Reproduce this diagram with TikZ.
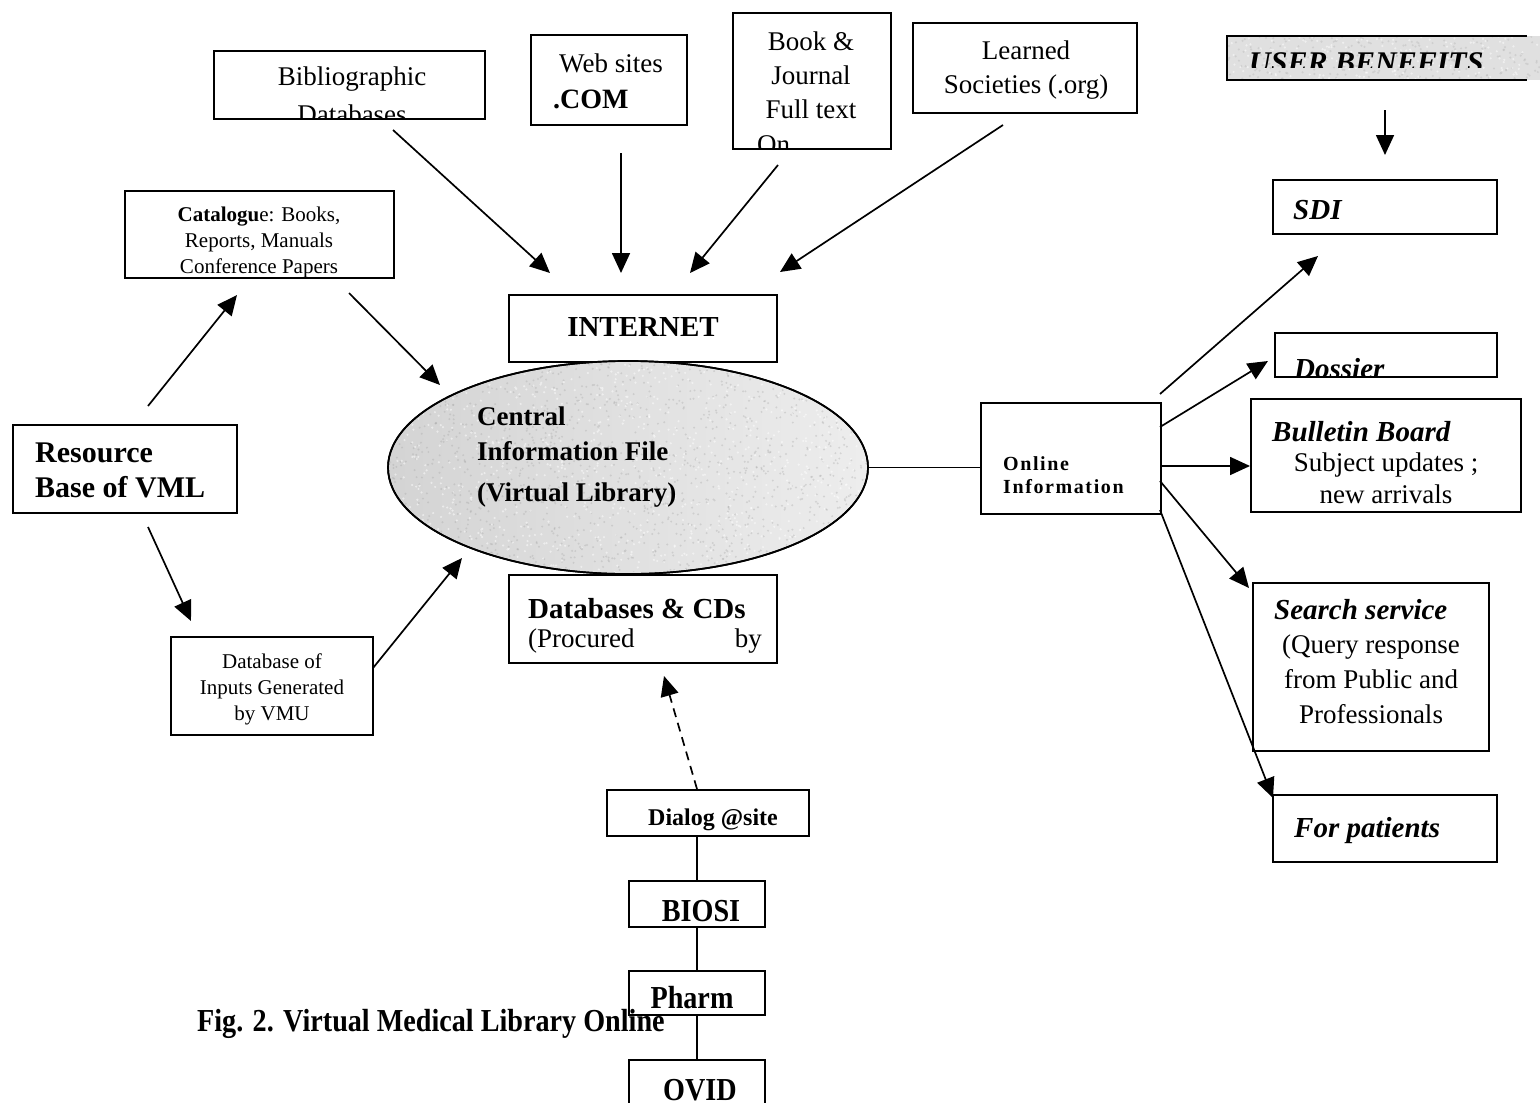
\documentclass[tikz,border=0pt]{standalone}
\usepackage{graphicx}
\usepackage{fontspec}
\setmainfont{Liberation Serif}
\newfontfamily\spacedserif[LetterSpace=8]{Liberation Serif}
\usetikzlibrary{arrows.meta,shapes.geometric}
\newcommand\fsz[1]{\fontsize{#1pt}{#1pt}\selectfont}
\newcommand\cnd[1]{\scalebox{0.88}[1]{#1}}
\begin{document}
\begin{tikzpicture}[x=1pt,y=-1pt,
  box/.style={draw,line width=2.1pt,fill=white,inner sep=0pt,anchor=north west},
  arr/.style={line width=1.7pt,-{Triangle[length=20pt,width=18pt]}},
  dasharr/.style={arr,dash pattern=on 9pt off 6pt},
  ln/.style={line width=1.7pt},
  t/.style={inner sep=0pt,anchor=base},
  tl/.style={inner sep=0pt,anchor=base west},
  tr/.style={inner sep=0pt,anchor=base east},
  bi/.style={font=\fsz{29}\bfseries\itshape}
]
\useasboundingbox[fill=white] (0,0) rectangle (1540,1103);
\pgfmathsetseed{7}

% ---------- boxes ----------
\node[box,minimum width=271pt,minimum height=68pt]  (biblio)   at (213,50) {};
\node[box,minimum width=156pt,minimum height=90pt]  (web)      at (530,34) {};
\node[box,minimum width=158pt,minimum height=136pt] (book)     at (732,12) {};
\node[box,minimum width=224pt,minimum height=90pt]  (learned)  at (912,22) {};
\node[box,minimum width=224pt,minimum height=54pt]  (sdi)      at (1272,179) {};
\node[box,minimum width=269pt,minimum height=87pt]  (catalog)  at (124,190) {};
\node[box,minimum width=268pt,minimum height=67pt]  (internet) at (508,294) {};
\node[box,minimum width=268pt,minimum height=88pt]  (dbcd)     at (508,574) {};
\node[box,minimum width=224pt,minimum height=88pt]  (resource) at (12,424) {};
\node[box,minimum width=202pt,minimum height=98pt]  (dbinput)  at (170,636) {};
\node[box,minimum width=180pt,minimum height=111pt] (online)   at (980,402) {};
\node[box,minimum width=222pt,minimum height=44pt]  (dossier)  at (1274,332) {};
\node[box,minimum width=270pt,minimum height=113pt] (bulletin) at (1250,398) {};
\node[box,minimum width=236pt,minimum height=168pt] (search)   at (1252,582) {};
\node[box,minimum width=224pt,minimum height=67pt]  (patients) at (1272,794) {};
\node[box,minimum width=202pt,minimum height=46pt]  (dialog)   at (606,789) {};
\node[box,minimum width=136pt,minimum height=46pt]  (biosi)    at (628,880) {};
\node[box,minimum width=136pt,minimum height=44pt]  (pharm)    at (628,970) {};
\node[box,minimum width=136pt,minimum height=60pt]  (ovid)     at (628,1059) {};

% user benefits (shaded, open on the right)
\node[anchor=north west,inner sep=0pt,fill=black!12,minimum width=313pt,minimum height=44pt] (ub) at (1227,36) {};
\begin{scope}
  \clip (1227,36) rectangle (1540,80);
  \foreach \i in {1,...,250} {
    \fill[black!30,opacity=0.35] ({1227+313*rnd},{36+44*rnd}) circle[radius=1.2pt];
  }
  \foreach \i in {1,...,200} {
    \fill[white,opacity=0.5] ({1227+313*rnd},{36+44*rnd}) circle[radius=1.2pt];
  }
\end{scope}
\draw[line width=2.1pt] ([xshift=300pt]ub.north west) -- (ub.north west) -- (ub.south west) -- ([xshift=300pt]ub.south west);
\begin{scope}
  \clip (1227,36) rectangle (1540,67);
  \node[tl] (ubt) at (1249,72) {\fsz{30}\bfseries\itshape USER BENEFITS};
\end{scope}

% central ellipse
\node[ellipse,draw,line width=1.7pt,left color=black!17,right color=black!7,
      minimum width=480pt,minimum height=213pt,inner sep=0pt] (cif) at (628,467.5) {};
\begin{scope}
  \clip (628,467.5) ellipse [x radius=238pt, y radius=104.5pt];
  \foreach \i in {1,...,1400} {
    \fill[black!35,opacity=0.35] ({388+480*rnd},{361+213*rnd}) circle[radius=1.1pt];
  }
  \foreach \i in {1,...,900} {
    \fill[white,opacity=0.5] ({388+480*rnd},{361+213*rnd}) circle[radius=1.2pt];
  }
\end{scope}
\draw[line width=1.7pt] (628,467.5) ellipse [x radius=240pt, y radius=106.5pt];

% ---------- texts ----------
\node[t] (tb1) at (352,85) {\fsz{27}Bibliographic};
\begin{scope}
  \clip (biblio.north west) rectangle ([yshift=1pt]biblio.south east);
  \node[t] (tb2) at (352,123) {\fsz{27}Databases};
\end{scope}

\node[t]  (tw1) at (611,72)  {\fsz{27}Web sites};
\node[tl] (tw2) at (553,108) {\fsz{28}\bfseries .COM};

\node[t] (tk1) at (811,50)  {\fsz{27}Book \&};
\node[t] (tk2) at (811,84)  {\fsz{27}Journal};
\node[t] (tk3) at (811,118) {\fsz{27}Full text};
\begin{scope}
  \clip (book.north west) rectangle ([yshift=1pt]book.south east);
  \node[tl] (tk4) at (757,153) {\fsz{27}On};
\end{scope}

\node[t] (tl1) at (1026,59) {\fsz{27}Learned};
\node[t] (tl2) at (1026,93) {\fsz{27}Societies (.org)};

\node[tl,bi] (tsdi) at (1293,219) {SDI};

\node[t] (tc1) at (259,221) {\fsz{21}\textbf{Catalogu}e: Books,};
\node[t] (tc2) at (259,247) {\fsz{21}Reports, Manuals};
\begin{scope}
  \clip (catalog.north west) rectangle ([yshift=1pt]catalog.south east);
  \node[t] (tc3) at (259,273) {\fsz{21}Conference Papers};
\end{scope}

\node[t] (tin) at (643,336) {\fsz{29}\bfseries INTERNET};

\node[tl] (tce1) at (477,425) {\fsz{27}\bfseries Central};
\node[tl] (tce2) at (477,460) {\fsz{27}\bfseries Information File};
\node[tl] (tce3) at (477,501) {\fsz{27}\bfseries (Virtual Library)};

\node[tl] (td1) at (528,618) {\fsz{29}\bfseries Databases \& CDs};
\node[tl] (td2) at (528,647) {\fsz{27}(Procured};
\node[tr] (td3) at (762,647) {\fsz{27}by};

\node[tl] (tr1) at (35,462) {\fsz{30}\bfseries Resource};
\node[tl] (tr2) at (35,497) {\fsz{30}\bfseries Base of VML};

\node[t] (ti1) at (272,668) {\fsz{21}Database of};
\node[t] (ti2) at (272,694) {\fsz{21}Inputs Generated};
\node[t] (ti3) at (272,720) {\fsz{21}by VMU};

\node[tl] (to1) at (1003,470) {\fsz{20}\spacedserif\bfseries Online};
\node[tl] (to2) at (1003,493) {\fsz{20}\spacedserif\bfseries Information};

\begin{scope}
  \clip (dossier.north west) rectangle ([yshift=1pt]dossier.south east);
  \node[tl,bi] (tdo) at (1294,378) {Dossier};
\end{scope}

\node[tl,bi] (tbu1) at (1272,441) {Bulletin Board};
\node[t] (tbu2) at (1386,471) {\fsz{27}Subject updates ;};
\node[t] (tbu3) at (1386,503) {\fsz{27}new arrivals};

\node[tl,bi] (ts1) at (1274,619) {Search service};
\node[t] (ts2) at (1371,653) {\fsz{27}(Query response};
\node[t] (ts3) at (1371,688) {\fsz{27}from Public and};
\node[t] (ts4) at (1371,723) {\fsz{27}Professionals};

\node[tl,bi] (tp) at (1294,837) {For patients};

\node[tl] (tdl) at (648,825) {\fsz{24}\bfseries Dialog @site};
\node[t] (tbi) at (701,921) {\cnd{\fsz{32}\bfseries BIOSI}};
\node[t] (tph) at (692,1008) {\cnd{\fsz{32}\bfseries Pharm}};
\node[t] (tov) at (700,1100) {\cnd{\fsz{32}\bfseries OVID}};

\node[tl] (cap) at (197,1031) {\cnd{\fsz{32}\bfseries Fig. 2. Virtual Medical Library Online}};

% ---------- connector end points ----------
\coordinate (a1s) at (393,130);  \coordinate (a1e) at (550,273);
\coordinate (a2s) at (621,153);  \coordinate (a2e) at (621,273);
\coordinate (a3s) at (778,165);  \coordinate (a3e) at (690,273);
\coordinate (a4s) at (1003,125); \coordinate (a4e) at (780,272);
\coordinate (ubs) at (1385,110); \coordinate (ube) at (1385,155);
\coordinate (r1s) at (148,406);  \coordinate (r1e) at (237,295);
\coordinate (c1s) at (349,293);  \coordinate (c1e) at (440,385);
\coordinate (r2s) at (148,527);  \coordinate (r2e) at (191,621);
\coordinate (d1s) at (373,668);  \coordinate (d1e) at (462,558);
\coordinate (o1s) at (1160,394); \coordinate (o1e) at (1318,256);
\coordinate (o2s) at (1160,427); \coordinate (o2e) at (1268,361);
\coordinate (o3s) at (1160,466); \coordinate (o3e) at (1250,466);
\coordinate (o4s) at (1160,481); \coordinate (o4e) at (1249,588);
\coordinate (o5s) at (1160,510); \coordinate (o5e) at (1273,798);
\coordinate (dgs) at (697,789);  \coordinate (dge) at (664,676);

% ---------- connectors ----------
\draw[arr] (a1s) -- (a1e);
\draw[arr] (a2s) -- (a2e);
\draw[arr] (a3s) -- (a3e);
\draw[arr] (a4s) -- (a4e);
\draw[arr] (ubs) -- (ube);
\draw[arr] (r1s) -- (r1e);
\draw[arr] (c1s) -- (c1e);
\draw[arr] (r2s) -- (r2e);
\draw[arr] (d1s) -- (d1e);
\draw[ln] (cif.east) -- (cif.east -| online.west);
\draw[arr] (o1s) -- (o1e);
\draw[arr] (o2s) -- (o2e);
\draw[arr] (o3s) -- (o3e);
\draw[arr] (o4s) -- (o4e);
\draw[arr] (o5s) -- (o5e);
\draw[dasharr] (dgs) -- (dge);
\draw[ln] (biosi.north |- dialog.south) -- (biosi.north);
\draw[ln] (biosi.south) -- (pharm.north);
\draw[ln] (pharm.south) -- (ovid.north);
\end{tikzpicture}
\end{document}
